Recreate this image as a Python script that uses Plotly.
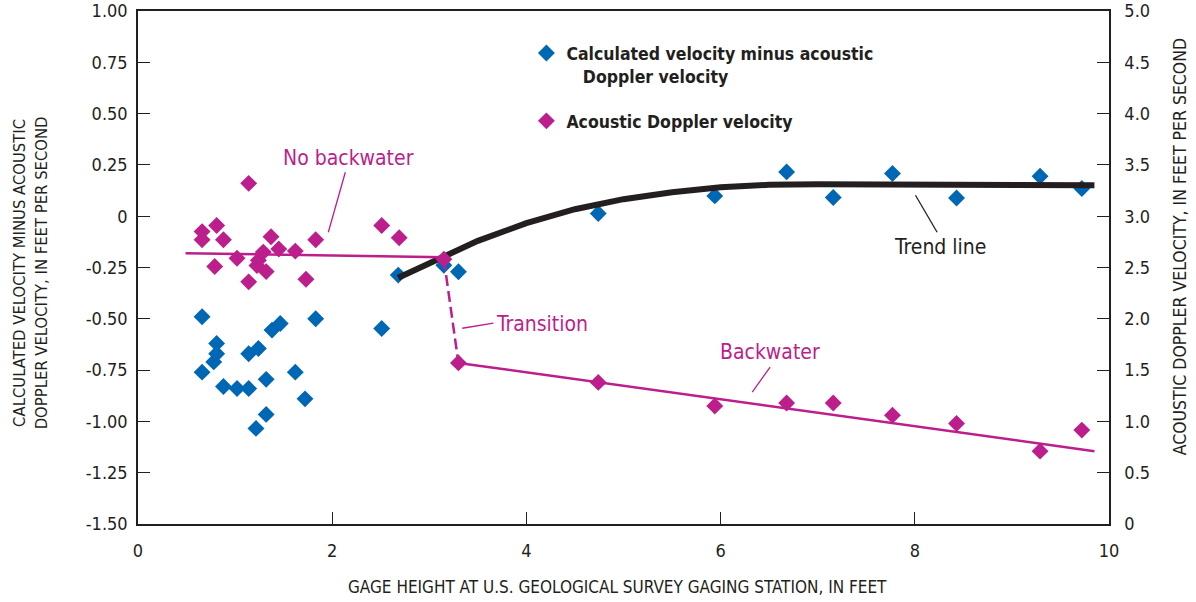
import plotly.graph_objects as go

# Gage height (ft) and calculated-minus-ADV velocity difference (ft/s), left axis
diff_gage = [0.66, 0.66, 0.78, 0.81, 0.81, 0.88, 1.02, 1.14, 1.14, 1.215, 1.24, 1.32, 1.32,
             1.38, 1.465, 1.62, 1.72, 1.83, 2.51, 2.68, 3.15, 3.30,
             4.74, 5.94, 6.68, 7.16, 7.77, 8.43, 9.29, 9.72]
diff_vel = [-0.49, -0.76, -0.71, -0.62, -0.67, -0.83, -0.84, -0.67, -0.84, -1.034, -0.645, -0.795, -0.966,
            -0.555, -0.523, -0.76, -0.89, -0.50, -0.547, -0.287, -0.239, -0.271,
            0.013, 0.099, 0.216, 0.091, 0.208, 0.089, 0.195, 0.135]

# Gage height (ft) and acoustic Doppler velocity (ft/s), right axis
adv_gage = [0.66, 0.66, 0.79, 0.81, 0.88, 1.02, 1.14, 1.14, 1.225, 1.24, 1.29, 1.32, 1.37, 1.45,
            1.62, 1.73, 1.83, 2.51, 2.69, 3.15, 3.30,
            4.74, 5.94, 6.68, 7.16, 7.77, 8.43, 9.29, 9.72]
adv_vel = [2.85, 2.77, 2.51, 2.91, 2.77, 2.59, 3.32, 2.36, 2.52, 2.57, 2.65, 2.46, 2.80, 2.68,
           2.66, 2.385, 2.77, 2.91, 2.79, 2.58, 1.57,
           1.38, 1.15, 1.18, 1.18, 1.06, 0.98, 0.71, 0.915]

# Trend line through the velocity differences
trend_gage = [2.68, 3.13, 3.5, 4.0, 4.5, 5.0, 5.5, 6.0, 6.5, 7.0, 8.0, 9.0, 9.85]
trend_vel = [-0.30, -0.20, -0.12, -0.034, 0.034, 0.083, 0.117, 0.141, 0.153, 0.156, 0.156, 0.153, 0.151]

# Fitted ADV lines: no backwater, transition, backwater
nobw_gage = [0.49, 3.15]
nobw_vel = [2.64, 2.60]
trans_gage = [3.15, 3.30]
trans_vel = [2.58, 1.57]
bw_gage = [3.30, 9.85]
bw_vel = [1.57, 0.71]

# Tick labels
x_ticks = [0, 2, 4, 6, 8, 10]
left_ticks = [1.0, 0.75, 0.5, 0.25, 0, -0.25, -0.5, -0.75, -1.0, -1.25, -1.5]
left_labels = ["1.00", "0.75", "0.50", "0.25", "0", "-0.25", "-0.50", "-0.75", "-1.00", "-1.25", "-1.50"]
right_ticks = [5.0, 4.5, 4.0, 3.5, 3.0, 2.5, 2.0, 1.5, 1.0, 0.5, 0]
right_labels = ["5.0", "4.5", "4.0", "3.5", "3.0", "2.5", "2.0", "1.5", "1.0", "0.5", "0"]

BLUE = "#0067b4"
MAGENTA = "#bc1e8c"
INK = "#231f20"
FONT = "Liberation Sans Narrow, Arial Narrow, DejaVu Sans Condensed, sans-serif"

fig = go.Figure()

fig.add_trace(go.Scatter(x=nobw_gage, y=nobw_vel, yaxis="y2", mode="lines",
                         line=dict(color=MAGENTA, width=2.5), showlegend=False, hoverinfo="skip"))
fig.add_trace(go.Scatter(x=trans_gage, y=trans_vel, yaxis="y2", mode="lines",
                         line=dict(color=MAGENTA, width=2.5, dash="11px,5px"), showlegend=False, hoverinfo="skip"))
fig.add_trace(go.Scatter(x=bw_gage, y=bw_vel, yaxis="y2", mode="lines",
                         line=dict(color=MAGENTA, width=2.5), showlegend=False, hoverinfo="skip"))

fig.add_trace(go.Scatter(x=diff_gage, y=diff_vel, mode="markers",
                         marker=dict(symbol="diamond", size=13, color=BLUE, line=dict(width=0)),
                         name="<b>Calculated velocity minus acoustic</b><br><b>\u00a0\u00a0\u00a0Doppler velocity</b>",
                         legend="legend"))
fig.add_trace(go.Scatter(x=adv_gage, y=adv_vel, yaxis="y2", mode="markers",
                         marker=dict(symbol="diamond", size=13, color=MAGENTA, line=dict(width=0)),
                         name="<b>Acoustic Doppler velocity</b>", legend="legend2"))

fig.add_trace(go.Scatter(x=trend_gage, y=trend_vel, mode="lines",
                         line=dict(color=INK, width=6), showlegend=False, hoverinfo="skip"))

# Leader lines for the callouts
leaders = [
    (2.135, 0.214, 1.96, -0.078, MAGENTA),
    (3.66, -0.521, 3.34, -0.546, MAGENTA),
    (6.51, -0.735, 6.326, -0.857, MAGENTA),
    (8.007, 0.102, 8.23, -0.078, INK),
]
for x0, y0, x1, y1, c in leaders:
    fig.add_shape(type="line", x0=x0, y0=y0, x1=x1, y1=y1, xref="x", yref="y",
                  line=dict(color=c, width=1.3))

callouts = [
    ("No backwater", 2.165, 0.283, MAGENTA),
    ("Transition", 4.165, -0.526, MAGENTA),
    ("Backwater", 6.51, -0.662, MAGENTA),
    ("Trend line", 8.26, -0.151, INK),
]
for txt, x, y, c in callouts:
    fig.add_annotation(text=txt, x=x, y=y, xref="x", yref="y", showarrow=False,
                       font=dict(family=FONT, size=21, color=c), xanchor="center", yanchor="middle")

# Axis titles
fig.add_annotation(text="CALCULATED VELOCITY MINUS ACOUSTIC<br>DOPPLER VELOCITY, IN FEET PER SECOND",
                   x=-0.111, y=0.489, xref="paper", yref="paper", textangle=-90, showarrow=False,
                   font=dict(family=FONT, size=16.5, color=INK), xanchor="center", yanchor="middle")
fig.add_annotation(text="ACOUSTIC DOPPLER VELOCITY, IN FEET PER SECOND",
                   x=1.074, y=0.541, xref="paper", yref="paper", textangle=-90, showarrow=False,
                   font=dict(family=FONT, size=17.5, color=INK), xanchor="center", yanchor="middle")
fig.add_annotation(text="GAGE HEIGHT AT U.S. GEOLOGICAL SURVEY GAGING STATION, IN FEET",
                   x=0.4935, y=-0.1227, xref="paper", yref="paper", showarrow=False,
                   font=dict(family=FONT, size=17, color=INK), xanchor="center", yanchor="middle")

axis_common = dict(showline=True, linecolor=INK, linewidth=1.5, ticks="inside", ticklen=12,
                   tickwidth=1.3, tickcolor=INK, showgrid=False, zeroline=False, automargin=False,
                   tickfont=dict(family=FONT, size=18, color=INK))

fig.update_layout(
    width=1196, height=602,
    margin=dict(l=138, r=87, t=11, b=78),
    paper_bgcolor="white", plot_bgcolor="white",
    font=dict(family=FONT, color=INK),
    xaxis=dict(range=[0, 10], tickvals=x_ticks, ticktext=[str(v) for v in x_ticks],
               mirror=True, ticklabelstandoff=10, **axis_common),
    yaxis=dict(range=[-1.5, 1.0], tickvals=left_ticks, ticktext=left_labels,
               ticklabelstandoff=5, **axis_common),
    yaxis2=dict(range=[0, 5.0], tickvals=right_ticks, ticktext=right_labels, overlaying="y",
                side="right", ticklabelstandoff=10, **axis_common),
    legend=dict(x=0.40, y=0.953, xanchor="left", yanchor="top", bgcolor="rgba(0,0,0,0)",
                font=dict(family=FONT, size=17.5, color=INK), valign="top"),
    legend2=dict(x=0.40, y=0.8207, xanchor="left", yanchor="top", bgcolor="rgba(0,0,0,0)",
                 font=dict(family=FONT, size=17.5, color=INK), valign="top"),
)

fig.write_html("out.html")
